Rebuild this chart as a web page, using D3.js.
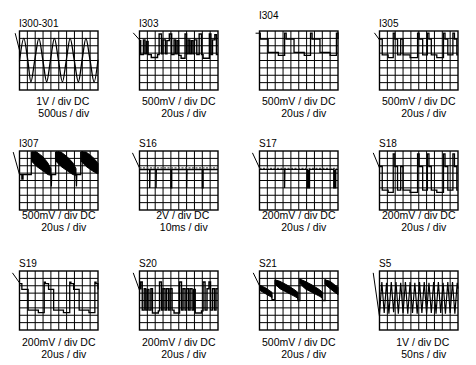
<!DOCTYPE html>
<html><head><meta charset="utf-8">
<script src="https://cdnjs.cloudflare.com/ajax/libs/d3/7.8.5/d3.min.js"></script>
<style>
html,body{margin:0;padding:0;background:#fff;}
svg{display:block;}
text{font-family:"Liberation Sans",Arial,Helvetica,sans-serif;fill:#000;}
</style></head>
<body>
<svg id="chart" width="476" height="365"></svg>
<script>
// ---- data (grid units: x 0..10 divisions, y 0..8 divisions from top) ----
const titles = ["I300-301","I303","I304","I305","I307","S16","S17","S18","S19","S20","S21","S5"];
const voltLabels = ["1V / div DC","500mV / div DC","500mV / div DC","500mV / div DC","500mV / div DC","2V / div DC","200mV / div DC","200mV / div DC","200mV / div DC","200mV / div DC","500mV / div DC","1V / div DC"];
const timeLabels = ["500us / div","20us / div","20us / div","20us / div","20us / div","10ms / div","20us / div","20us / div","20us / div","20us / div","20us / div","50ns / div"];
// trigger marker: [startX, startY, endY]
const markers = [[-0.55,0.3,2.6],[-0.8,0.25,1.2],[-0.5,0.3,0.3],[-0.65,0.25,1.2],[-0.8,0.15,3.2],[-0.9,0.25,2.3],[-0.9,0.25,2.3],[-0.8,0.25,2.3],[-0.9,0.25,1.6],[-0.8,0.25,2.6],[-0.8,0.25,2.0],[-0.8,0.25,6.2]];

const sineI300 = [[0,4.1],[0.55,1.0],[1.05,3.9],[1.45,6.9],[1.95,3.9],[2.47,1.0],[2.97,3.9],[3.46,6.9],[3.95,3.9],[4.45,1.0],[4.95,3.9],[5.47,6.9],[5.97,3.9],[6.45,1.0],[6.97,3.9],[7.5,6.9],[7.98,3.9],[8.46,1.0],[8.98,3.9],[9.5,6.9],[10,3.9]];
const stepI303 = [[0,1.3],[0.15,3.2],[0.5,1.2],[0.7,3.1],[0.9,1.4],[1.1,3.2],[1.5,3.6],[2.3,3.2],[2.5,0.4],[2.8,3.1],[3.0,1.2],[3.3,3.1],[3.5,1.3],[3.8,0.4],[4.1,3.2],[4.4,1.2],[4.6,3.1],[4.8,1.3],[5.0,3.3],[5.3,3.7],[5.8,0.4],[6.0,3.1],[6.2,1.2],[6.4,3.1],[6.6,1.3],[6.8,3.1],[7.0,1.2],[7.3,3.2],[7.6,0.4],[7.9,3.2],[8.1,3.7],[8.9,0.4],[9.1,3.2],[9.3,1.2],[9.6,0.5],[9.8,3.2],[10,3.2]];
const stepI304 = [[0,0.3],[0.1,1.1],[1.1,2.9],[2.4,3.3],[3.2,0.3],[3.4,1.1],[4.4,2.9],[5.7,3.3],[6.5,0.3],[6.7,1.1],[7.7,2.9],[9.0,3.3],[9.8,0.3],[10,1.1]];
const stepI305 = [[0,1.1],[0.35,3.25],[1.1,3.6],[1.75,0.3],[1.95,1.1],[2.3,3.25],[2.7,1.1],[3.0,3.25],[3.9,3.6],[4.85,0.3],[5.05,1.1],[5.5,3.25],[6.1,0.3],[6.3,1.1],[6.6,3.25],[7.3,3.6],[8.15,0.3],[8.35,1.1],[8.7,3.25],[9.35,0.3],[9.55,1.1],[9.85,3.25],[10,3.25]];
const lineI307 = [[0,3.2],[0.3,3.2],[0.3,3.8],[0.45,3.8],[0.45,3.2],[1.5,3.2],[1.5,0.2],[1.55,0.2],null,[3.95,3.1],[4.0,3.2],[4.05,4.8],[4.1,3.2],[4.6,3.2],[4.6,0.2],[4.65,0.2],null,[7.15,3.1],[7.2,3.2],[7.25,4.8],[7.3,3.2],[7.8,3.2],[7.8,0.2],[7.85,0.2]];
const blobI307Top = [[[1.55,0.1],[2.2,0.15],[3.0,0.8],[3.6,1.6],[4.0,2.4]],[[4.65,0.1],[5.3,0.15],[6.1,0.8],[6.8,1.6],[7.2,2.4]],[[7.85,0.1],[8.5,0.15],[9.3,0.8],[9.8,1.4],[10,1.7]]];
const blobI307Bot = [[[1.55,1.4],[2.2,2.1],[3.0,2.7],[3.6,3.2],[4.0,3.3]],[[4.65,1.4],[5.3,2.1],[6.1,2.7],[6.8,3.2],[7.2,3.3]],[[7.85,1.4],[8.5,2.1],[9.3,2.7],[9.8,3.0],[10,3.1]]];
const lineS16 = [[0,2.5],[1.3,2.5],[1.3,5.0],[1.34,2.5],[2.1,2.5],[2.1,5.0],[2.14,2.5],[4.0,2.5],[4.0,5.0],[4.1,5.0],[4.1,2.5],[6.0,2.5],[6.0,5.0],[6.04,2.5],[8.0,2.5],[8.0,5.0],[8.1,5.0],[8.1,2.5],[10,2.5]];
const lineS17 = [[0,2.5],[3.2,2.5],[3.2,5.0],[3.24,2.5],[6.1,2.5],[6.1,5.0],[6.2,5.0],[6.2,2.6],[6.3,2.6],[6.3,5.0],[6.38,5.0],[6.38,2.5],[9.45,2.5],[9.45,5.0],[9.55,5.0],[9.55,2.6],[9.65,2.6],[9.65,5.0],[9.72,5.0],[9.72,2.5],[10,2.5]];
const stepS18 = [[0,2.1],[0.35,5.3],[1.1,5.6],[1.75,0.4],[1.95,2.1],[2.3,5.3],[2.7,2.1],[3.0,5.3],[3.9,5.6],[4.85,0.4],[5.05,2.1],[5.5,5.3],[6.1,0.4],[6.3,2.1],[6.6,5.3],[7.3,5.6],[8.15,0.4],[8.35,2.1],[8.7,5.3],[9.35,0.4],[9.55,2.1],[9.85,5.3],[10,5.3]];
const stepS19 = [[0,1.7],[0.3,2.5],[1.1,5.3],[2.4,5.65],[3.15,1.5],[3.3,1.7],[3.7,2.5],[4.35,5.3],[5.6,5.65],[6.4,1.5],[6.55,1.7],[6.9,2.5],[7.6,5.3],[8.85,5.65],[9.6,1.5],[9.75,1.7],[10,2.5]];
const stepS20 = [[0,2.4],[0.15,1.5],[0.35,5.3],[0.6,2.4],[0.8,5.3],[1.0,2.5],[1.2,5.3],[1.45,2.4],[1.65,5.7],[2.4,5.4],[2.55,1.5],[2.8,5.3],[3.0,2.4],[3.25,5.3],[3.45,2.4],[3.7,5.3],[3.9,2.4],[4.15,5.3],[4.4,5.7],[5.1,1.5],[5.35,5.3],[5.55,2.4],[5.8,5.3],[6.0,2.4],[6.25,5.3],[6.45,2.4],[6.7,5.3],[6.9,2.5],[7.1,5.7],[7.9,5.4],[8.1,1.5],[8.35,5.3],[8.6,2.4],[8.85,1.5],[9.05,5.3],[9.3,2.4],[9.55,5.3],[9.75,2.4],[10,2.4]];
const lineS21 = [[1.55,3.3],[1.6,3.9],[1.95,3.9],[2.0,1.2],null,[4.85,3.5],[4.9,4.0],[5.15,4.0],[5.15,1.0],null,[8.0,3.5],[8.05,4.0],[8.35,4.0],[8.35,1.1]];
const blobS21Top = [[[0,1.9],[0.8,2.3],[1.6,2.9]],[[2.0,1.2],[2.6,1.4],[3.5,1.9],[4.4,2.5],[4.9,2.9]],[[5.15,1.1],[5.8,1.4],[6.7,1.9],[7.6,2.5],[8.05,2.9]],[[8.35,1.2],[9.0,1.4],[9.6,1.9],[10,2.2]]];
const blobS21Bot = [[[0,2.6],[0.8,3.1],[1.6,3.6]],[[2.0,1.8],[2.6,2.4],[3.5,2.9],[4.4,3.4],[4.9,3.7]],[[5.15,1.7],[5.8,2.4],[6.7,2.9],[7.6,3.4],[8.05,3.7]],[[8.35,1.8],[9.0,2.4],[9.6,2.9],[10,3.2]]];
const waveS5 = [[0,5.8],[0.3,1.5],[0.6,5.7],[0.9,1.6],[1.2,5.8],[1.5,1.5],[1.8,5.6],[2.1,1.5],[2.4,5.8],[2.7,1.6],[3.0,5.7],[3.3,1.5],[3.6,5.8],[3.9,1.5],[4.2,5.7],[4.5,1.6],[4.8,5.8],[5.1,1.5],[5.4,5.7],[5.7,1.5],[6.0,5.8],[6.3,1.6],[6.6,5.7],[6.9,1.5],[7.2,5.8],[7.5,1.5],[7.8,5.7],[8.1,1.6],[8.4,5.8],[8.7,1.5],[9.0,5.7],[9.3,1.5],[9.6,5.8],[9.9,1.6],[10,2.4]];
const ghostS16 = [[0,2.3],[10,2.3]];
const ghostS17 = [[0,2.35],[10,2.35]];

// ---- layout ----
const svg = d3.select("#chart");
const colX = [19.5, 139.5, 259.5, 379.5];
const rowY = [31, 151, 271];
const GW = 78.5, GH = 59;
const titleBase = [[27,27,19,27],[147,147,147,147],[267,267,267,267]];
const labelBase = [[105,117],[219,231],[345.5,357.5]];

const panels = titles.map((t,i)=>({title:t, volt:voltLabels[i], time:timeLabels[i], marker:markers[i], r:Math.floor(i/4), c:i%4}));

panels.forEach((p,i)=>{
  const x0 = colX[p.c], y0 = rowY[p.r];
  const x = d3.scaleLinear().domain([0,10]).range([x0, x0+GW]);
  const y = d3.scaleLinear().domain([0,8]).range([y0, y0+GH]);
  const g = svg.append("g");
  g.selectAll("line.v").data(d3.range(1,10)).join("line")
    .attr("x1",d=>x(d)).attr("x2",d=>x(d)).attr("y1",y(0)).attr("y2",y(8))
    .attr("stroke","#000").attr("stroke-width",1);
  g.selectAll("line.h").data(d3.range(1,8)).join("line")
    .attr("x1",x(0)).attr("x2",x(10)).attr("y1",d=>y(d)).attr("y2",d=>y(d))
    .attr("stroke","#000").attr("stroke-width",1);
  g.append("rect").attr("x",x(0)).attr("y",y(0)).attr("width",x(10)-x(0)).attr("height",y(8)-y(0))
    .attr("fill","none").attr("stroke","#000").attr("stroke-width",1.4);
  g.append("text").attr("x",x0-0.5).attr("y",titleBase[p.r][p.c]).attr("font-size",10).text(p.title);
  const cx = x(5);
  g.append("text").attr("x",cx+(p.volt.length<12?4:0)).attr("y",labelBase[p.r][0]).attr("font-size",10.5).attr("text-anchor","middle").text(p.volt);
  g.append("text").attr("x",cx+5).attr("y",labelBase[p.r][1]).attr("font-size",10.5).attr("text-anchor","middle").text(p.time);
  const m = p.marker;
  g.append("line").attr("x1",x(m[0])).attr("y1",y(m[1])).attr("x2",x(0)).attr("y2",y(m[2]))
    .attr("stroke","#000").attr("stroke-width",1);
  p.x = x; p.y = y; p.g = g;
});

function drawLine(p, data, curve, width){
  const ln = d3.line().defined(d=>d!==null).x(d=>p.x(d[0])).y(d=>p.y(d[1])).curve(curve||d3.curveLinear);
  p.g.append("path").attr("d",ln(data)).attr("fill","none").attr("stroke","#000")
    .attr("stroke-width",width||1.3).attr("stroke-linejoin","miter");
}
function drawBlob(p, tops, bots){
  tops.forEach((top,k)=>{
    const poly = top.concat(bots[k].slice().reverse());
    p.g.append("path").attr("d", d3.line().x(d=>p.x(d[0])).y(d=>p.y(d[1])).curve(d3.curveLinearClosed)(poly))
      .attr("fill","#000").attr("stroke","#000").attr("stroke-width",1);
  });
}
function drawGhost(p, data){
  p.g.append("path").attr("d", d3.line().x(d=>p.x(d[0])).y(d=>p.y(d[1]))(data))
    .attr("fill","none").attr("stroke","#555").attr("stroke-width",1.2).attr("stroke-dasharray","2,1.5");
}

drawLine(panels[0], sineI300, d3.curveMonotoneX, 1.3);
drawLine(panels[1], stepI303, d3.curveStepAfter, 1.4);
drawLine(panels[2], stepI304, d3.curveStepAfter, 1.3);
drawLine(panels[3], stepI305, d3.curveStepAfter, 1.3);
drawBlob(panels[4], blobI307Top, blobI307Bot);
drawLine(panels[4], lineI307, d3.curveLinear, 1.3);
drawGhost(panels[5], ghostS16);
drawLine(panels[5], lineS16, d3.curveLinear, 1.4);
drawGhost(panels[6], ghostS17);
drawLine(panels[6], lineS17, d3.curveLinear, 1.2);
drawLine(panels[7], stepS18, d3.curveStepAfter, 1.3);
drawLine(panels[8], stepS19, d3.curveStepAfter, 1.3);
drawLine(panels[9], stepS20, d3.curveStepAfter, 1.4);
drawBlob(panels[10], blobS21Top, blobS21Bot);
drawLine(panels[10], lineS21, d3.curveLinear, 1.3);
drawLine(panels[11], waveS5, d3.curveLinear, 1.2);
</script>
</body></html>
